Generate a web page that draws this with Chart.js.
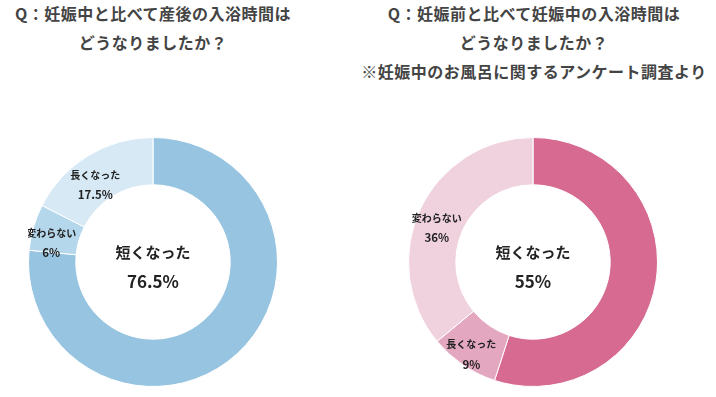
<!DOCTYPE html>
<html>
<head>
<meta charset="utf-8">
<script src="https://cdn.jsdelivr.net/npm/chart.js@4.4.0/dist/chart.umd.min.js"></script>
<style>
    body { margin: 0; background: #fff; width: 716px; height: 397px; position: relative; overflow: hidden; }
    .title { position: absolute; color: #444; font-family: "Noto Sans CJK JP", sans-serif; font-weight: bold; font-size: 16px; letter-spacing: 0.5px; line-height: 29px; text-align: center; white-space: nowrap; }
    .box { position: absolute; width: 250px; height: 250px; top: 137px; }
</style>
</head>
<body>
<div class="title" style="left:0; width:306px; top:-1px;">Q：妊娠中と比べて産後の入浴時間は<br>どうなりましたか？</div>
<div class="title" style="left:356px; width:356px; top:-1px;">Q：妊娠前と比べて妊娠中の入浴時間は<br>どうなりましたか？<br>※妊娠中のお風呂に関するアンケート調査より</div>
<div class="box" style="left:28px;"><canvas id="after-chart"></canvas></div>
<div class="box" style="left:408px;"><canvas id="during-chart"></canvas></div>
<script>
// 産後 (vs 妊娠中)
const afterLabels = ['短くなった', '変わらない', '長くなった'];
const afterValues = [76.5, 6, 17.5];
const afterColors = ['#97c4e0', '#b5d7eb', '#d6e9f4'];

// 妊娠中 (vs 妊娠前)
const duringLabels = ['短くなった', '長くなった', '変わらない'];
const duringValues = [55, 9, 36];
const duringColors = ['#d76a91', '#e4a7c0', '#f0d2de'];

const fontFamily = '"Noto Sans CJK JP", sans-serif';

// draws the big label in the hole and the small ones on the other slices
const sliceLabels = {
    id: 'sliceLabels',
    afterDatasetsDraw(chart) {
        const ctx = chart.ctx;
        const meta = chart.getDatasetMeta(0);
        const labels = chart.data.labels;
        const values = chart.data.datasets[0].data;
        ctx.save();
        ctx.fillStyle = '#222';
        ctx.textAlign = 'center';
        ctx.textBaseline = 'middle';
        meta.data.forEach(function (arc, i) {
            const text = values[i] + '%';
            if (i === 0) {
                ctx.font = 'bold 15px ' + fontFamily;
                ctx.fillText(labels[i], arc.x, arc.y - 10);
                ctx.font = 'bold 17px ' + fontFamily;
                ctx.fillText(text, arc.x, arc.y + 20);
            } else {
                const p = arc.getCenterPoint();
                ctx.font = 'bold 10px ' + fontFamily;
                ctx.fillText(labels[i], p.x - 5, p.y - 1);
                ctx.font = 'bold 11.5px ' + fontFamily;
                ctx.fillText(text, p.x - 5, p.y + 19);
            }
        });
        ctx.restore();
    }
};

function makeDoughnut(id, labels, values, colors) {
    return new Chart(document.getElementById(id), {
        type: 'doughnut',
        data: {
            labels: labels,
            datasets: [{
                data: values,
                backgroundColor: colors,
                borderColor: '#fff',
                borderWidth: 1
            }]
        },
        options: {
            responsive: true,
            maintainAspectRatio: false,
            animation: false,
            cutout: '62%',
            plugins: {
                legend: { display: false },
                tooltip: { enabled: false }
            }
        },
        plugins: [sliceLabels]
    });
}

makeDoughnut('after-chart', afterLabels, afterValues, afterColors);
makeDoughnut('during-chart', duringLabels, duringValues, duringColors);
</script>
</body>
</html>
